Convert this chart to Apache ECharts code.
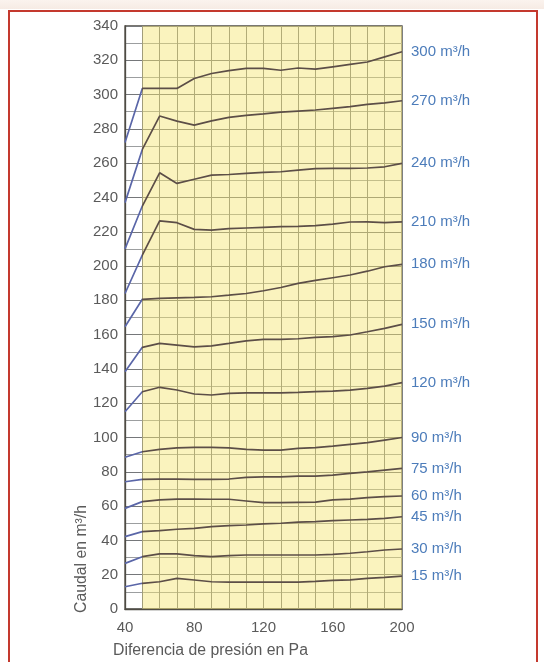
<!DOCTYPE html>
<html>
<head>
<meta charset="utf-8">
<script src="https://cdn.jsdelivr.net/npm/echarts@6/dist/echarts.min.js"></script>
<style>
  html, body { margin: 0; padding: 0; background: #fff; }
  #chart { width: 544px; height: 662px; }
  #frame {
    position: absolute; left: 8px; top: 10px; width: 526px; height: 670px;
    border: 2px solid #c4392e; pointer-events: none;
  }
  #strip {
    position: absolute; left: 0; top: 0; width: 544px; height: 9px;
    background: linear-gradient(#fbf3ee, #f6ebe4);
  }
</style>
</head>
<body>
<div id="strip"></div>
<div id="chart"></div>
<div id="frame"></div>
<script>
// pressure difference (Pa)
const pressure = [40, 50, 60, 70, 80, 90, 100, 110, 120, 130, 140, 150, 160, 170, 180, 190, 200];

// flow curves (m3/h), one per nominal flow
const names = ['300 m³/h', '270 m³/h', '240 m³/h', '210 m³/h', '180 m³/h', '150 m³/h', '120 m³/h',
  '90 m³/h', '75 m³/h', '60 m³/h', '45 m³/h', '30 m³/h', '15 m³/h'];
const s300 = [272, 303.6, 303.6, 303.6, 309.4, 312.3, 314, 315.3, 315.3, 314.2, 315.5, 314.8, 316.2, 317.6, 319, 322, 325];
const s270 = [237, 268, 287.5, 284.5, 282.2, 284.7, 286.7, 287.9, 288.8, 289.8, 290.4, 291, 292, 293, 294.3, 295.2, 296.4];
const s240 = [210, 235, 254.4, 248.2, 250.6, 253, 253.4, 254, 254.6, 255, 256, 256.8, 257, 257, 257.2, 257.9, 259.9];
const s210 = [184, 206.4, 226.4, 225.3, 221.4, 221, 221.8, 222.2, 222.6, 223, 223.1, 223.6, 224.5, 225.7, 225.8, 225.3, 225.8];
const s180 = [164.6, 180.6, 181.2, 181.5, 181.7, 182.1, 183, 184, 185.6, 187.5, 189.9, 191.6, 193.2, 194.8, 197, 199.6, 201];
const s150 = [138.4, 152.6, 154.9, 153.9, 152.9, 153.5, 154.9, 156.4, 157.2, 157.2, 157.6, 158.4, 158.8, 159.8, 161.7, 163.7, 166];
const s120 = [115, 126.7, 129.3, 127.7, 125.4, 124.8, 125.8, 126.1, 126.1, 126.1, 126.3, 126.8, 127.1, 127.7, 128.7, 130, 132];
const s90 = [88.5, 91.7, 93.1, 94, 94.3, 94.3, 94, 93.1, 92.7, 92.7, 93.7, 94.1, 95, 96, 97, 98.5, 100];
const s75 = [74.2, 75.6, 75.8, 75.8, 75.6, 75.6, 75.8, 76.8, 77.1, 77.1, 77.5, 77.5, 78.1, 79.1, 80, 81, 82];
const s60 = [58.7, 62.6, 63.6, 64.1, 64.1, 64, 64, 63, 62, 62, 62.2, 62.3, 63.6, 64.1, 64.9, 65.5, 65.9];
const s45 = [42.2, 45.1, 45.7, 46.5, 47, 48, 48.6, 49, 49.6, 50, 50.7, 50.9, 51.5, 51.9, 52.3, 52.9, 53.8];
const s30 = [26.6, 30.5, 32.1, 32.1, 31.1, 30.5, 31.1, 31.5, 31.5, 31.5, 31.5, 31.5, 31.9, 32.5, 33.4, 34.4, 35];
const s15 = [13, 15, 15.9, 17.9, 16.9, 15.9, 15.7, 15.7, 15.7, 15.7, 15.7, 16.1, 16.7, 17, 17.9, 18.5, 19.2];
const curves = [s300, s270, s240, s210, s180, s150, s120, s90, s75, s60, s45, s30, s15];

const FONT = 'Liberation Sans, Arial, sans-serif';
const GRID = { left: 125, right: 142, top: 26, bottom: 53 };
const plotLeft = GRID.left, plotRight = 544 - GRID.right;

// first segment (40-50 Pa) is bluish, the rest dark brown
const cut = 10 / 160;
const lineColor = {
  type: 'linear', x: plotLeft, y: 0, x2: plotRight, y2: 0, global: true,
  colorStops: [
    { offset: 0, color: '#5a66a8' }, { offset: cut, color: '#5a66a8' },
    { offset: cut, color: '#5c4e47' }, { offset: 1, color: '#5c4e47' }
  ]
};

const chart = echarts.init(document.getElementById('chart'));

const lineSeries = curves.map((vals, i) => ({
  name: names[i],
  type: 'line',
  data: vals.map((v, j) => [pressure[j], v]),
  showSymbol: false,
  silent: true,
  z: 3,
  lineStyle: { width: 1.7, color: lineColor },
  itemStyle: { color: '#5c4e47' },
  endLabel: {
    show: true,
    formatter: names[i],
    color: '#4c7cba',
    fontSize: 15,
    fontFamily: FONT,
    distance: 9
  }
}));

// yellow paper from 50 Pa onward
lineSeries[0].markArea = {
  silent: true,
  itemStyle: { color: 'rgba(244, 228, 110, 0.45)' },
  data: [[{ xAxis: 50, yAxis: 0 }, { xAxis: 200, yAxis: 340 }]]
};

const option = {
  animation: false,
  textStyle: { fontFamily: FONT },
  grid: {
    left: GRID.left, right: GRID.right, top: GRID.top, bottom: GRID.bottom,
    show: true, borderColor: '#4e4b44', borderWidth: 1.3, backgroundColor: 'transparent'
  },
  xAxis: {
    type: 'value', min: 40, max: 200, interval: 10,
    axisLine: { show: true, lineStyle: { color: '#4e4b44', width: 1.3 } },
    axisTick: { show: false },
    axisLabel: {
      color: '#5a5a5a', fontSize: 15, margin: 11, fontFamily: FONT,
      formatter: v => ((v - 40) % 40 === 0 ? String(v) : '')
    },
    splitLine: { show: true, lineStyle: { color: '#7d7f80', width: 1 } }
  },
  yAxis: {
    type: 'value', min: 0, max: 340, interval: 10,
    axisLine: { show: true, lineStyle: { color: '#4e4b44', width: 1.3 } },
    axisTick: { show: false },
    axisLabel: {
      color: '#5a5a5a', fontSize: 15, margin: 7, fontFamily: FONT,
      formatter: v => (v % 20 === 0 ? String(v) : '')
    },
    splitLine: { show: true, lineStyle: { color: ['#75777a', '#9c9ea0'], width: 1 } }
  },
  graphic: [
    {
      type: 'text', x: 82, y: 559, rotation: Math.PI / 2,
      style: {
        text: 'Caudal en m³/h', fill: '#5a5a5a', fontSize: 15.8, fontFamily: FONT,
        align: 'center', verticalAlign: 'middle'
      }
    },
    {
      type: 'text', x: 113, y: 651,
      style: {
        text: 'Diferencia de presión en Pa', fill: '#5a5a5a', fontSize: 15.8, fontFamily: FONT,
        align: 'left', verticalAlign: 'middle'
      }
    }
  ],
  series: lineSeries
};

chart.setOption(option);
</script>
</body>
</html>
